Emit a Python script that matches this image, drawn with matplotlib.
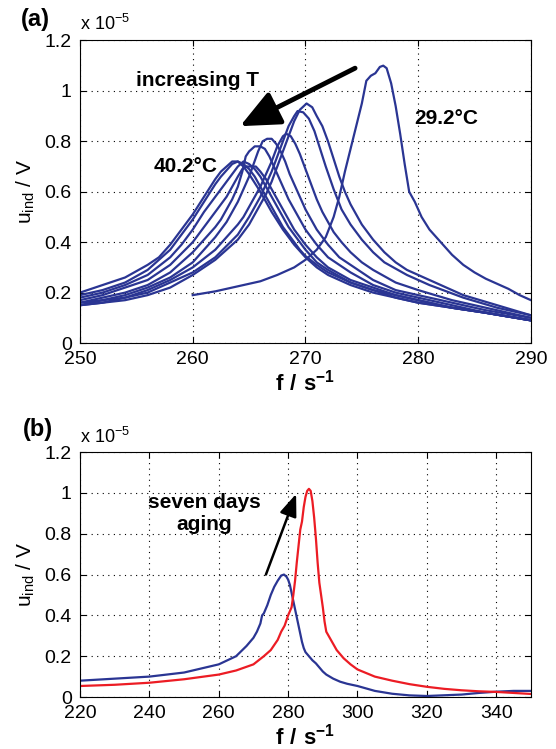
import matplotlib
matplotlib.use('Agg')
import matplotlib.pyplot as plt

plt.rcParams['font.family'] = ['Liberation Sans', 'DejaVu Sans']
plt.rcParams['mathtext.fontset'] = 'custom'
plt.rcParams['mathtext.rm'] = 'Liberation Sans'
plt.rcParams['mathtext.bf'] = 'Liberation Sans:bold'

# panel (a): induced voltage (x 1e-5 V) vs frequency, one curve per temperature
f_a1 = [260, 262, 264, 266, 267.5, 269, 270, 271, 271.8, 272.5, 273, 273.5, 274, 274.5, 275,
        275.4, 275.8, 276.2, 276.6, 276.9, 277.2, 277.6, 278, 278.4, 278.8, 279.2, 279.7,
        280.3, 281, 282, 283, 284, 285, 286, 287, 288, 289, 290]
u_a1 = [0.19, 0.205, 0.225, 0.245, 0.27, 0.30, 0.33, 0.37, 0.42, 0.50, 0.58, 0.68, 0.77, 0.86,
        0.95, 1.04, 1.06, 1.07, 1.095, 1.10, 1.09, 1.03, 0.94, 0.83, 0.71, 0.60, 0.56, 0.50,
        0.45, 0.40, 0.35, 0.31, 0.28, 0.255, 0.235, 0.215, 0.19, 0.17]

f_a2 = [250, 252, 254, 256, 258, 260, 262, 264, 265, 266, 266.5, 267, 267.5, 268, 268.5, 269,
        269.5, 270.1, 270.6, 271, 271.5, 272, 272.5, 273, 273.5, 274, 275, 276, 277, 278, 279,
        280, 281, 282, 284, 287, 290]
u_a2 = [0.15, 0.16, 0.17, 0.19, 0.22, 0.27, 0.33, 0.41, 0.47, 0.55, 0.59, 0.64, 0.70, 0.76, 0.82,
        0.88, 0.925, 0.95, 0.935, 0.90, 0.86, 0.80, 0.73, 0.66, 0.60, 0.55, 0.47, 0.41, 0.36,
        0.32, 0.29, 0.27, 0.25, 0.23, 0.19, 0.15, 0.11]

f_a3 = [250, 252, 254, 256, 258, 260, 262, 264, 265, 266, 266.5, 267, 267.5, 268, 268.5, 269,
        269.3, 269.8, 270.3, 270.8, 271.3, 271.8, 272.5, 273.2, 274, 275, 276, 277, 279, 281,
        284, 287, 290]
u_a3 = [0.15, 0.16, 0.18, 0.20, 0.24, 0.28, 0.34, 0.43, 0.50, 0.58, 0.63, 0.68, 0.74, 0.80, 0.86,
        0.90, 0.92, 0.915, 0.89, 0.84, 0.77, 0.70, 0.61, 0.53, 0.47, 0.41, 0.36, 0.32, 0.27,
        0.23, 0.18, 0.14, 0.11]

f_a4 = [250, 252, 254, 256, 258, 260, 262, 264, 264.5, 265, 265.5, 266, 266.5, 267, 267.5, 268,
        268.3, 268.7, 269.1, 269.5, 270, 270.5, 271, 271.5, 272, 272.5, 273.2, 274, 275, 276,
        278, 280, 283, 286, 290]
u_a4 = [0.15, 0.17, 0.18, 0.21, 0.25, 0.30, 0.37, 0.47, 0.50, 0.54, 0.58, 0.62, 0.67, 0.72, 0.78,
        0.82, 0.83, 0.82, 0.79, 0.75, 0.69, 0.63, 0.57, 0.52, 0.48, 0.44, 0.40, 0.36, 0.32,
        0.29, 0.24, 0.21, 0.17, 0.14, 0.10]

f_a5 = [250, 252, 254, 256, 258, 260, 262, 262.5, 263, 263.5, 264, 264.5, 265, 265.4, 265.8,
        266.2, 266.6, 267, 267.4, 267.8, 268.2, 268.6, 269, 269.5, 270, 270.5, 271, 271.5, 272,
        273, 274, 276, 278, 280, 283, 286, 290]
u_a5 = [0.16, 0.17, 0.19, 0.22, 0.26, 0.32, 0.42, 0.45, 0.48, 0.52, 0.56, 0.61, 0.66, 0.71, 0.76,
        0.80, 0.81, 0.81, 0.79, 0.76, 0.72, 0.67, 0.63, 0.58, 0.53, 0.49, 0.45, 0.42, 0.39,
        0.34, 0.31, 0.25, 0.21, 0.19, 0.16, 0.13, 0.10]

f_a6 = [250, 252, 254, 256, 258, 260, 262, 262.5, 263, 263.5, 264, 264.4, 264.7, 265, 265.5,
        266, 266.4, 266.8, 267.2, 267.6, 268, 268.5, 269, 269.5, 270, 270.5, 271, 272, 273, 274,
        276, 278, 280, 283, 286, 290]
u_a6 = [0.16, 0.18, 0.20, 0.23, 0.28, 0.36, 0.46, 0.49, 0.53, 0.57, 0.62, 0.68, 0.74, 0.76, 0.78,
        0.78, 0.77, 0.74, 0.70, 0.66, 0.62, 0.57, 0.53, 0.49, 0.45, 0.42, 0.39, 0.34, 0.31,
        0.28, 0.23, 0.20, 0.18, 0.15, 0.12, 0.09]

f_a7 = [250, 252, 254, 256, 258, 260, 261, 262, 262.5, 263, 263.5, 264, 264.4, 264.8, 265.2,
        265.6, 266, 266.5, 267, 267.5, 268, 268.5, 269, 269.5, 270, 271, 272, 274, 276, 278,
        280, 283, 286, 290]
u_a7 = [0.17, 0.19, 0.22, 0.25, 0.31, 0.40, 0.46, 0.52, 0.55, 0.58, 0.62, 0.66, 0.69, 0.70, 0.70,
        0.70, 0.68, 0.65, 0.61, 0.57, 0.53, 0.49, 0.45, 0.42, 0.39, 0.34, 0.30, 0.25, 0.22,
        0.19, 0.17, 0.14, 0.12, 0.09]

f_a8 = [250, 252, 254, 256, 258, 259, 260, 261, 261.5, 262, 262.5, 263, 263.5, 264, 264.5, 265,
        265.5, 266, 266.5, 267, 267.5, 268, 268.5, 269, 269.5, 270, 271, 272, 274, 276, 278,
        280, 283, 286, 290]
u_a8 = [0.18, 0.20, 0.23, 0.27, 0.34, 0.39, 0.45, 0.52, 0.55, 0.58, 0.61, 0.64, 0.67, 0.70, 0.72,
        0.71, 0.69, 0.66, 0.62, 0.58, 0.54, 0.50, 0.46, 0.43, 0.40, 0.37, 0.32, 0.29, 0.24,
        0.21, 0.19, 0.17, 0.14, 0.12, 0.09]

f_a9 = [250, 252, 254, 256, 257, 258, 259, 260, 261, 261.5, 262, 262.5, 263, 263.5, 264, 264.5,
        265, 265.5, 266, 266.5, 267, 267.5, 268, 268.5, 269, 269.5, 270, 271, 272, 274, 276,
        278, 280, 283, 286, 290]
u_a9 = [0.19, 0.21, 0.24, 0.29, 0.33, 0.37, 0.43, 0.49, 0.56, 0.595, 0.63, 0.66, 0.685, 0.71,
        0.72, 0.71, 0.69, 0.66, 0.62, 0.58, 0.54, 0.50, 0.46, 0.43, 0.40, 0.37, 0.345, 0.31,
        0.28, 0.24, 0.21, 0.18, 0.16, 0.14, 0.12, 0.09]

f_a10 = [250, 252, 254, 256, 257, 258, 259, 260, 261, 261.5, 262, 262.5, 263, 263.5, 264,
         264.5, 265, 265.5, 266, 266.5, 267, 267.5, 268, 268.5, 269, 269.5, 270, 271, 272, 274,
         276, 278, 280, 283, 286, 290]
u_a10 = [0.20, 0.23, 0.26, 0.31, 0.34, 0.39, 0.45, 0.51, 0.58, 0.615, 0.65, 0.68, 0.70, 0.72,
         0.72, 0.70, 0.67, 0.635, 0.60, 0.56, 0.52, 0.485, 0.45, 0.42, 0.39, 0.365, 0.34, 0.30,
         0.27, 0.23, 0.20, 0.18, 0.16, 0.14, 0.12, 0.09]

curves_a = [(f_a1, u_a1), (f_a2, u_a2), (f_a3, u_a3), (f_a4, u_a4), (f_a5, u_a5),
            (f_a6, u_a6), (f_a7, u_a7), (f_a8, u_a8), (f_a9, u_a9), (f_a10, u_a10)]

# panel (b): before / after seven days aging
f_b_before = [220, 230, 240, 250, 260, 265, 268, 270, 271, 272, 272.5, 273, 274, 275, 276, 277,
              278, 278.8, 279.5, 280, 280.5, 281, 281.5, 282, 282.5, 283, 283.5, 284, 284.5,
              285, 286, 287, 288, 289, 290, 291, 293, 295, 297, 300, 305, 310, 315, 320, 330,
              335, 340, 345, 350]
u_b_before = [0.08, 0.09, 0.10, 0.12, 0.16, 0.20, 0.25, 0.29, 0.32, 0.36, 0.40, 0.41, 0.45, 0.50,
              0.54, 0.57, 0.595, 0.60, 0.59, 0.575, 0.55, 0.51, 0.47, 0.43, 0.39, 0.35, 0.31,
              0.27, 0.24, 0.22, 0.20, 0.18, 0.165, 0.145, 0.125, 0.11, 0.09, 0.075, 0.065,
              0.054, 0.03, 0.016, 0.008, 0.005, 0.012, 0.02, 0.026, 0.03, 0.03]
f_b_after = [220, 230, 240, 250, 260, 265, 270, 273, 275, 277, 278, 279, 280, 280.5, 281, 281.5,
             282, 282.5, 283, 283.5, 284, 284.5, 285, 285.5, 286, 286.5, 287, 287.5, 288, 288.5,
             289, 289.5, 290, 290.5, 291, 292, 293, 294, 295, 296, 298, 300, 305, 310, 315, 320,
             325, 330, 335, 340, 345, 350]
u_b_after = [0.054, 0.06, 0.07, 0.087, 0.11, 0.13, 0.16, 0.20, 0.23, 0.28, 0.32, 0.35, 0.40, 0.42,
             0.44, 0.50, 0.57, 0.66, 0.74, 0.82, 0.86, 0.93, 0.98, 1.01, 1.02, 1.01, 0.96, 0.88,
             0.78, 0.66, 0.56, 0.50, 0.44, 0.37, 0.32, 0.29, 0.26, 0.23, 0.21, 0.19, 0.16, 0.135,
             0.10, 0.08, 0.063, 0.05, 0.04, 0.033, 0.028, 0.025, 0.02, 0.015]

blue = '#2a3593'
red = '#ec1c24'

fig = plt.figure(figsize=(5.56, 7.49), dpi=100)
ax1 = fig.add_axes([0.1439, 0.542, 0.811, 0.404])
ax2 = fig.add_axes([0.1439, 0.0694, 0.811, 0.327])


def matlab_style(ax):
    ax.grid(True, color='k', linestyle=(0, (1, 4)), linewidth=0.8)
    ax.tick_params(direction='in', top=True, right=True, length=4, labelsize=14)
    ax.tick_params(axis='x', pad=6)
    ax.tick_params(axis='y', pad=6)
    for s in ax.spines.values():
        s.set_linewidth(0.8)
    ax.set_ylim(0, 1.2)
    ax.set_yticks([0, 0.2, 0.4, 0.6, 0.8, 1.0, 1.2])
    ax.set_yticklabels(['0', '0.2', '0.4', '0.6', '0.8', '1', '1.2'])
    ax.set_ylabel(r'u$_{\mathrm{ind}}$ / V', fontsize=15, labelpad=5)
    ax.set_xlabel(r'$\mathbf{f\ /\ s^{-1}}$', fontsize=16, labelpad=1)
    ax.text(0.0, 1.02, r'x 10$^{-5}$', transform=ax.transAxes, fontsize=13,
            ha='left', va='bottom')


for f, u in curves_a:
    ax1.plot(f, u, color=blue, lw=1.6)
matlab_style(ax1)
ax1.set_xlim(250, 290)
ax1.set_xticks([250, 260, 270, 280, 290])
ax1.annotate('', xy=(264.2, 0.86), xytext=(274.4, 1.09),
             arrowprops=dict(arrowstyle='-|>,head_width=0.45,head_length=1.0', lw=3.5,
                             color='k', mutation_scale=24, shrinkA=0, shrinkB=0))
ax1.text(260.4, 1.04, 'increasing T', fontsize=15, fontweight='bold', ha='center', va='center')
ax1.text(282.5, 0.89, '29.2°C', fontsize=15, fontweight='bold', ha='center', va='center')
ax1.text(259.4, 0.70, '40.2°C', fontsize=15, fontweight='bold', ha='center', va='center')
fig.text(0.063, 0.974, '(a)', fontsize=17, fontweight='bold', ha='center', va='center')

ax2.plot(f_b_before, u_b_before, color=blue, lw=1.6)
ax2.plot(f_b_after, u_b_after, color=red, lw=1.6)
matlab_style(ax2)
ax2.set_xlim(220, 350)
ax2.set_xticks([220, 240, 260, 280, 300, 320, 340])
ax2.annotate('', xy=(282.3, 0.995), xytext=(273.6, 0.60),
             arrowprops=dict(arrowstyle='-|>,head_width=0.35,head_length=0.9', lw=1.8,
                             color='k', mutation_scale=15, shrinkA=0, shrinkB=0))
ax2.text(255.9, 0.90, 'seven days\naging', fontsize=15, fontweight='bold', ha='center',
         va='center', linespacing=1.2)
fig.text(0.068, 0.426, '(b)', fontsize=17, fontweight='bold', ha='center', va='center')

fig.savefig('out.png', dpi=100)
